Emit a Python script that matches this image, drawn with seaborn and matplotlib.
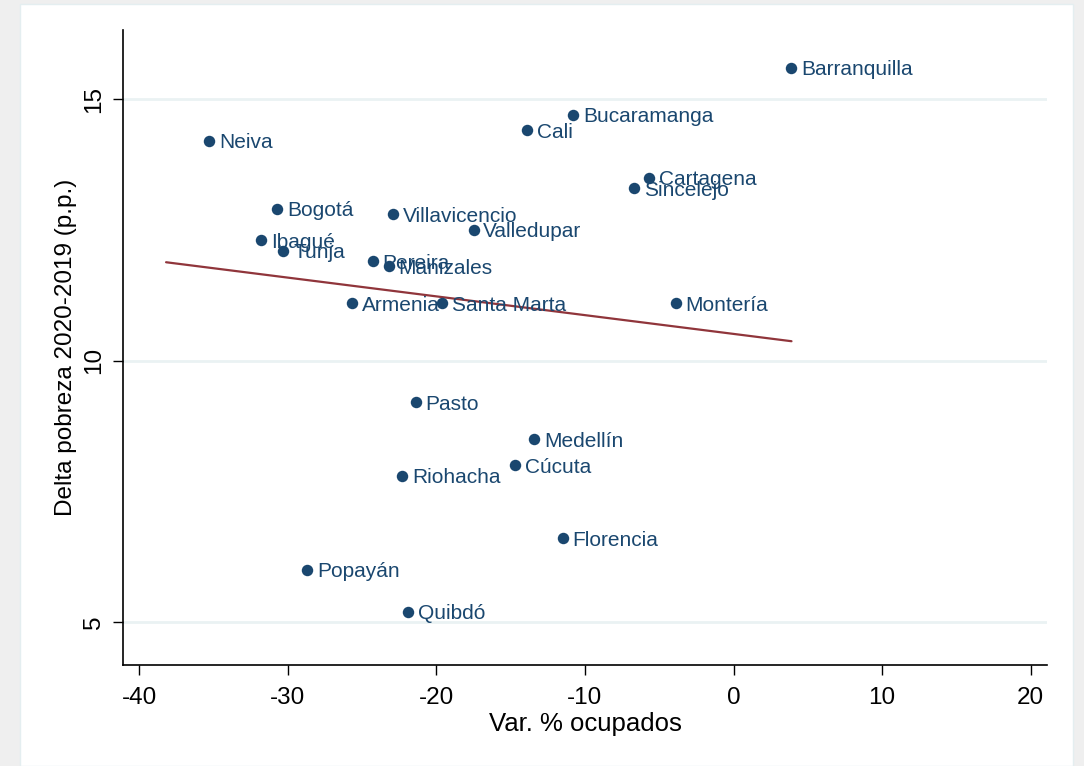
import matplotlib
matplotlib.use("Agg")
import matplotlib.pyplot as plt
from matplotlib.patches import Rectangle
import numpy as np
import pandas as pd
import seaborn as sns

# datos
ciudades = ["Barranquilla", "Bucaramanga", "Cali", "Neiva", "Cartagena", "Sincelejo",
            "Bogotá", "Villavicencio", "Valledupar", "Ibagué", "Tunja", "Pereira",
            "Manizales", "Armenia", "Santa Marta", "Montería", "Pasto", "Medellín",
            "Cúcuta", "Riohacha", "Florencia", "Popayán", "Quibdó"]
var_ocupados = [3.9, -10.8, -13.9, -35.3, -5.7, -6.7,
                -30.7, -22.9, -17.5, -31.8, -30.3, -24.3,
                -23.2, -25.7, -19.6, -3.9, -21.4, -13.4,
                -14.7, -22.3, -11.5, -28.7, -21.9]
delta_pobreza = [15.6, 14.7, 14.4, 14.2, 13.5, 13.3,
                 12.9, 12.8, 12.5, 12.3, 12.1, 11.9,
                 11.8, 11.1, 11.1, 11.1, 9.2, 8.5,
                 8.0, 7.8, 6.6, 6.0, 5.2]
# recta de ajuste (extremos)
fit_x = [-38.2, 3.9]
fit_y = [11.88, 10.37]

xticks = [-40, -30, -20, -10, 0, 10, 20]
yticks = [5, 10, 15]

df = pd.DataFrame({"ciudad": ciudades, "x": var_ocupados, "y": delta_pobreza})
fit = pd.DataFrame({"x": fit_x, "y": fit_y})

sns.set_style("white")
plt.rcParams['font.family'] = ['Liberation Sans', 'DejaVu Sans']

navy = "#1a476f"
maroon = "#90353b"

fig = plt.figure(figsize=(10.84, 7.66), dpi=100)
fig.patch.set_facecolor("#efefef")
panel = Rectangle((20 / 1084, 0), 1053 / 1084, 762 / 766,
                  transform=fig.transFigure, facecolor="white",
                  edgecolor="#e4eef0", linewidth=1, zorder=-10)
fig.add_artist(panel)

ax = fig.add_axes([123 / 1084, 1 - 665 / 766, 924 / 1084, 635 / 766])
ax.set_facecolor("white")

for yv in yticks:
    ax.axhline(yv, color="#eaf2f3", linewidth=2, zorder=0)

sns.scatterplot(data=df, x="x", y="y", ax=ax, color=navy, s=68,
                edgecolor=navy, linewidth=0, zorder=3)
sns.lineplot(data=fit, x="x", y="y", ax=ax, color=maroon, linewidth=1.6, zorder=2)

for _, r in df.iterrows():
    ax.annotate(r["ciudad"], (r["x"], r["y"]), xytext=(7, -1.5),
                textcoords="offset points", va="center", ha="left",
                fontsize=15, color=navy, zorder=4)

ax.set_xlim(-41.1, 21.1)
ax.set_ylim(4.18, 16.32)
ax.set_xticks(xticks)
ax.set_yticks(yticks)
ax.set_xticklabels([str(v) for v in xticks], fontsize=17.5)
ax.set_yticklabels([str(v) for v in yticks], fontsize=17.5, rotation=90, va="center")
ax.tick_params(axis="both", direction="out", length=7, width=1, color="black",
               labelcolor="black", bottom=True, left=True)
ax.tick_params(axis="x", pad=9)
ax.tick_params(axis="y", pad=6)

for s in ["top", "right"]:
    ax.spines[s].set_visible(False)
for s in ["left", "bottom"]:
    ax.spines[s].set_color("black")
    ax.spines[s].set_linewidth(1.2)

ax.set_xlabel("Var. % ocupados", fontsize=18.5, labelpad=2, color="black")
ax.set_ylabel("Delta pobreza 2020-2019 (p.p.)", fontsize=17.5, labelpad=4, color="black")

fig.savefig("out.png", dpi=100, facecolor=fig.get_facecolor())
